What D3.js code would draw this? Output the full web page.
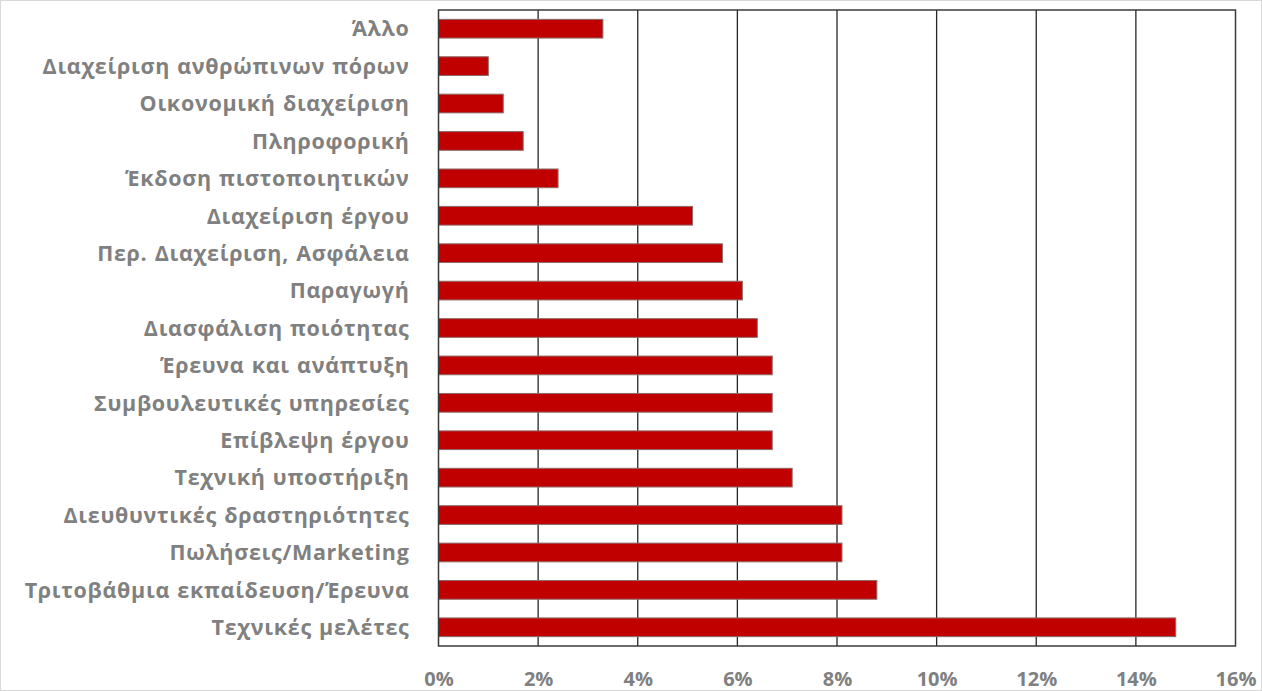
<!DOCTYPE html>
<html>
<head>
<meta charset="utf-8">
<script src="https://cdn.jsdelivr.net/npm/d3@7"></script>
<style>
  html, body { margin: 0; padding: 0; background: #fff; }
  svg { display: block; }
</style>
</head>
<body>
<svg id="chart" width="1262" height="691"></svg>
<script>
// Categories, top to bottom
const categories = [
  "Άλλο",
  "Διαχείριση ανθρώπινων πόρων",
  "Οικονομική διαχείριση",
  "Πληροφορική",
  "Έκδοση πιστοποιητικών",
  "Διαχείριση έργου",
  "Περ. Διαχείριση, Ασφάλεια",
  "Παραγωγή",
  "Διασφάλιση ποιότητας",
  "Έρευνα και ανάπτυξη",
  "Συμβουλευτικές υπηρεσίες",
  "Επίβλεψη έργου",
  "Τεχνική υποστήριξη",
  "Διευθυντικές δραστηριότητες",
  "Πωλήσεις/Marketing",
  "Τριτοβάθμια εκπαίδευση/Έρευνα",
  "Τεχνικές μελέτες"
];

// Share of respondents per category (%)
const values = [3.3, 1.0, 1.3, 1.7, 2.4, 5.1, 5.7, 6.1, 6.4, 6.7, 6.7, 6.7, 7.1, 8.1, 8.1, 8.8, 14.8];

// Axis ticks (%)
const tickValues = [0, 2, 4, 6, 8, 10, 12, 14, 16];

const W = 1262, H = 691;
const margin = { left: 438.5, right: 26.5, top: 10, bottom: 45 };
const svg = d3.select("#chart");

// Outer chart frame
svg.append("rect")
  .attr("x", 0.5).attr("y", 0.5)
  .attr("width", W - 1).attr("height", H - 1)
  .attr("fill", "#fff").attr("stroke", "#d9d9d9");

const x = d3.scaleLinear().domain([0, 16]).range([margin.left, W - margin.right]);
const y = d3.scaleBand().domain(categories)
  .range([margin.top, H - margin.bottom])
  .paddingInner(0.5).paddingOuter(0.25);

const data = categories.map((c, i) => ({ c, v: values[i] }));

// Vertical gridlines
svg.append("g")
  .selectAll("line")
  .data(tickValues.slice(1, -1))
  .join("line")
  .attr("x1", d => x(d)).attr("x2", d => x(d))
  .attr("y1", margin.top).attr("y2", H - margin.bottom)
  .attr("stroke", "#262626").attr("stroke-width", 1.3);

// Bars
svg.append("g")
  .selectAll("rect")
  .data(data)
  .join("rect")
  .attr("x", x(0))
  .attr("y", d => y(d.c))
  .attr("width", d => x(d.v) - x(0))
  .attr("height", y.bandwidth())
  .attr("fill", "#c00000")
  .attr("stroke", "#8c6a6a")
  .attr("stroke-width", 1);

// Plot frame
svg.append("rect")
  .attr("x", margin.left).attr("y", margin.top)
  .attr("width", x(16) - x(0)).attr("height", H - margin.bottom - margin.top)
  .attr("fill", "none").attr("stroke", "#3a3a3a").attr("stroke-width", 1.5);

// Category labels
const yAxis = d3.axisLeft(y).tickSize(0).tickPadding(29);
const gy = svg.append("g").attr("transform", `translate(${margin.left},0)`).call(yAxis);
gy.select(".domain").remove();
gy.selectAll("text")
  .attr("fill", "#808080")
  .attr("dy", "0.36em")
  .style("font-family", "'Open Sans', 'DejaVu Sans', sans-serif")
  .style("font-weight", "700")
  .style("font-size", "21.5px")
  .style("letter-spacing", "0.7px")
  .style("word-spacing", "1px");

// Percentage axis
const xAxis = d3.axisBottom(x).tickValues(tickValues).tickSize(0).tickPadding(26)
  .tickFormat(d => d + "%");
const gx = svg.append("g").attr("transform", `translate(0,${H - margin.bottom})`).call(xAxis);
gx.select(".domain").remove();
gx.selectAll("text")
  .attr("fill", "#808080")
  .style("font-family", "'Open Sans', 'DejaVu Sans', sans-serif")
  .style("font-weight", "700")
  .style("font-size", "20px");
</script>
</body>
</html>
